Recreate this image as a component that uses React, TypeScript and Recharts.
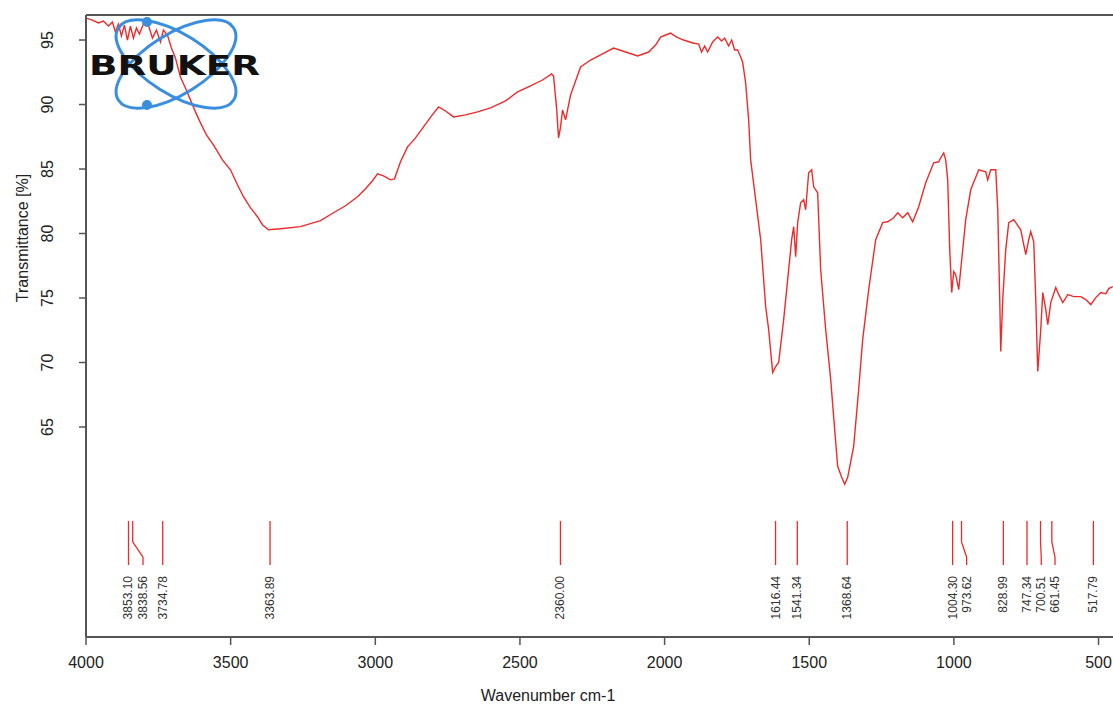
import React from 'react';
import { ComposedChart, Line, Scatter, XAxis, YAxis, ReferenceLine } from 'recharts';

// spectrum
const WAVENUMBERS = [
  4000, 3977.9, 3957.1, 3939.8, 3922.5, 3908.7, 3898.3, 3888.0, 3877.6, 3867.2,
  3856.8, 3846.5, 3836.1, 3825.7, 3815.4, 3801.5, 3787.7, 3770.4, 3756.6, 3742.7,
  3732.4, 3718.5, 3704.7, 3690.9, 3673.6, 3656.3, 3639.0, 3621.7, 3604.4, 3583.7,
  3559.5, 3528.4, 3500.7, 3476.5, 3455.8, 3431.6, 3407.4, 3390.1, 3369.3, 3327.8,
  3258.7, 3189.5, 3144.5, 3103.0, 3061.5, 3033.9, 3009.7, 2992.4, 2971.6, 2947.4,
  2933.6, 2912.9, 2888.6, 2861.0, 2833.3, 2805.6, 2781.4, 2757.2, 2729.5, 2688.0,
  2646.5, 2601.6, 2549.7, 2508.2, 2463.3, 2421.8, 2390.7, 2383.8, 2373.4, 2366.5,
  2359.6, 2352.7, 2342.3, 2325.0, 2290.4, 2255.9, 2221.3, 2176.3, 2134.8, 2093.3,
  2055.3, 2031.1, 2013.8, 1996.5, 1979.2, 1958.4, 1934.2, 1903.1, 1882.3, 1872.0,
  1861.6, 1851.2, 1833.9, 1816.6, 1802.8, 1792.4, 1778.6, 1768.2, 1757.8, 1747.5,
  1737.1, 1730.2, 1719.8, 1709.4, 1702.5, 1685.2, 1667.9, 1650.6, 1640.3, 1626.4,
  1616.1, 1605.7, 1588.4, 1574.6, 1560.8, 1553.8, 1546.9, 1540.0, 1529.7, 1519.3,
  1512.4, 1502.0, 1491.6, 1484.7, 1470.9, 1460.5, 1443.2, 1425.9, 1412.1, 1401.7,
  1387.9, 1377.5, 1367.1, 1346.4, 1329.1, 1315.3, 1294.5, 1270.3, 1246.1, 1228.8,
  1208.1, 1194.2, 1176.9, 1159.7, 1142.4, 1121.6, 1097.4, 1069.8, 1052.5, 1045.6,
  1035.2, 1028.3, 1021.4, 1014.4, 1007.5, 1000.6, 993.7, 983.3, 972.9, 959.1,
  941.8, 914.1, 889.9, 883.0, 872.6, 855.3, 848.4, 841.5, 838.0, 831.1,
  820.8, 810.4, 793.1, 768.9, 751.6, 741.2, 734.3, 723.9, 717.0, 710.1,
  699.7, 692.8, 682.4, 675.5, 665.1, 647.8, 637.5, 623.6, 606.3, 585.6,
  561.4, 544.1, 526.8, 509.5, 492.2, 474.9, 464.6, 450.7,
];

const TRANSMITTANCE = [
  96.70, 96.55, 96.32, 96.47, 96.08, 96.39, 95.62, 96.24, 95.31, 96.16,
  95.00, 96.08, 95.15, 95.93, 95.46, 96.24, 96.39, 95.15, 95.77, 94.85,
  95.77, 95.39, 94.38, 93.61, 92.14, 91.28, 90.36, 89.43, 88.58, 87.65,
  86.87, 85.71, 84.94, 83.78, 82.85, 82.00, 81.30, 80.68, 80.29, 80.37,
  80.53, 81.00, 81.61, 82.15, 82.85, 83.47, 84.09, 84.63, 84.47, 84.16,
  84.24, 85.56, 86.72, 87.41, 88.27, 89.12, 89.81, 89.50, 89.04, 89.20,
  89.43, 89.74, 90.28, 90.98, 91.44, 91.90, 92.37, 92.21, 89.74, 87.41,
  88.27, 89.58, 88.81, 90.74, 92.91, 93.45, 93.84, 94.38, 94.07, 93.76,
  94.07, 94.61, 95.23, 95.39, 95.54, 95.23, 95.00, 94.77, 94.69, 94.07,
  94.54, 94.07, 94.85, 95.23, 94.92, 95.15, 94.54, 95.00, 94.23, 94.23,
  93.68, 93.30, 91.67, 88.81, 85.71, 82.62, 79.52, 74.33, 72.56, 69.23,
  69.69, 70.00, 73.33, 76.42, 79.52, 80.53, 78.20, 80.84, 82.38, 82.62,
  81.84, 84.71, 84.94, 83.62, 83.16, 77.20, 72.56, 68.69, 64.82, 61.95,
  61.10, 60.56, 61.10, 63.50, 67.91, 71.78, 75.65, 79.52, 80.84, 80.91,
  81.22, 81.61, 81.22, 81.61, 80.91, 82.07, 83.93, 85.48, 85.56, 85.87,
  86.25, 85.71, 84.16, 78.75, 75.42, 77.05, 76.81, 75.65, 77.97, 81.07,
  83.39, 84.94, 84.79, 84.16, 84.94, 84.94, 81.84, 74.88, 70.85, 74.88,
  78.75, 80.84, 81.07, 80.29, 78.36, 79.52, 80.14, 79.36, 74.88, 69.30,
  72.56, 75.42, 74.10, 72.94, 74.64, 75.81, 75.26, 74.64, 75.26, 75.11,
  75.11, 74.88, 74.49, 75.03, 75.42, 75.34, 75.73, 75.88,
];

// picked peaks and where their labels sit (crowded ones are pushed aside)
const PEAKS = [3853.10, 3838.56, 3734.78, 3363.89, 2360.00, 1616.44, 1541.34, 1368.64, 1004.30, 973.62, 828.99, 747.34, 700.51, 661.45, 517.79];
const PEAK_LABEL_AT = [3853.10, 3803, 3734.78, 3363.89, 2360.00, 1616.44, 1541.34, 1368.64, 1004.30, 956, 828.99, 747.34, 698, 650.5, 517.79];

const X_TICKS = [4000, 3500, 3000, 2500, 2000, 1500, 1000, 500];
const Y_TICKS = [65, 70, 75, 80, 85, 90, 95];

const X_MIN = 450;
const X_MAX = 4000;
const Y_MIN = 48.72;
const Y_MAX = 96.94;

// peak marker levels (transmittance units)
const MARK_TOP = 57.72;
const BEND_START = 56.09;
const BEND_END = 54.92;
const MARK_BOTTOM = 54.3;
const LABEL_TOP = 53.45;

const spectrum = WAVENUMBERS.map((w, i) => ({ w, t: TRANSMITTANCE[i] }));
const peakLabels = PEAKS.map((p, i) => ({ w: PEAK_LABEL_AT[i], t: LABEL_TOP, label: p.toFixed(2) }));

const FONT = '"Liberation Sans", Arial, sans-serif';
const AXIS = '#555';
const RED = '#ee2b2b';

const YTick = (props: any) => {
  const { x, y, payload } = props;
  const tx = x - 24;
  return (
    <text x={tx} y={y} transform={`rotate(-90, ${tx}, ${y})`} textAnchor="middle" fill="#222" fontSize={16} fontFamily={FONT}>
      {payload.value}
    </text>
  );
};

const renderPeakLabel = (props: any) => {
  const { cx, cy, payload } = props;
  return (
    <text x={cx} y={cy} transform={`rotate(-90, ${cx}, ${cy})`} textAnchor="end" dominantBaseline="central" fontSize={12} fill="#333" fontFamily={FONT}>
      {payload.label}
    </text>
  );
};

const peakSegments = () => {
  const out: React.ReactNode[] = [];
  PEAKS.forEach((p, i) => {
    const l = PEAK_LABEL_AT[i];
    const props = { stroke: RED, strokeWidth: 1.3, ifOverflow: 'visible' as const };
    if (l === p) {
      out.push(<ReferenceLine key={`s${i}`} segment={[{ x: p, y: MARK_TOP }, { x: p, y: MARK_BOTTOM }]} {...props} />);
    } else {
      out.push(<ReferenceLine key={`a${i}`} segment={[{ x: p, y: MARK_TOP }, { x: p, y: BEND_START }]} {...props} />);
      out.push(<ReferenceLine key={`b${i}`} segment={[{ x: p, y: BEND_START }, { x: l, y: BEND_END }]} {...props} />);
      out.push(<ReferenceLine key={`c${i}`} segment={[{ x: l, y: BEND_END }, { x: l, y: MARK_BOTTOM }]} {...props} />);
    }
  });
  return out;
};

const BrukerLogo = () => (
  <svg width={1113} height={711} style={{ position: 'absolute', left: 0, top: 0, pointerEvents: 'none' }}>
    <g stroke="#3a8ee0" strokeWidth={3} fill="none">
      <ellipse cx={176} cy={64} rx={68} ry={30} transform="rotate(32 176 64)" />
      <ellipse cx={176} cy={64} rx={68} ry={30} transform="rotate(-32 176 64)" />
    </g>
    <circle cx={147} cy={22} r={5} fill="#3a8ee0" />
    <circle cx={147} cy={105} r={5} fill="#3a8ee0" />
    <text x={89} y={75} fontFamily='"DejaVu Sans", sans-serif' fontWeight="bold" fontSize={26} textLength={171} lengthAdjust="spacingAndGlyphs" fill="#111">
      BRUKER
    </text>
  </svg>
);

export default function App() {
  return (
    <div style={{ position: 'absolute', left: 0, top: 0, width: 1113, height: 711, overflow: 'hidden', background: '#fff', fontFamily: FONT }}>
      <ComposedChart width={1113} height={711} margin={{ top: 15, right: 0, bottom: 0, left: 0 }}>
        <XAxis
          dataKey="w"
          type="number"
          domain={[X_MIN, X_MAX]}
          reversed
          allowDataOverflow
          ticks={X_TICKS}
          interval={0}
          height={74}
          tickSize={8}
          tickMargin={12}
          axisLine={{ stroke: AXIS, strokeWidth: 2 }}
          tickLine={{ stroke: AXIS, strokeWidth: 1.5 }}
          tick={{ fill: '#222', fontSize: 16, fontFamily: FONT }}
          label={{
            content: () => (
              <text x={548} y={695} textAnchor="middle" dominantBaseline="central" fill="#222" fontSize={16} fontFamily={FONT}>
                Wavenumber cm-1
              </text>
            ),
          }}
        />
        <YAxis
          type="number"
          domain={[Y_MIN, Y_MAX]}
          allowDataOverflow
          ticks={Y_TICKS}
          interval={0}
          width={86}
          tickSize={7}
          axisLine={{ stroke: AXIS, strokeWidth: 2 }}
          tickLine={{ stroke: AXIS, strokeWidth: 1.5 }}
          tick={<YTick />}
          label={{
            content: () => (
              <text x={22} y={238} transform="rotate(-90, 22, 238)" textAnchor="middle" dominantBaseline="central" fill="#222" fontSize={16} fontFamily={FONT}>
                Transmittance [%]
              </text>
            ),
          }}
        />
        <ReferenceLine y={Y_MAX} stroke={AXIS} strokeWidth={2} ifOverflow="visible" />
        {peakSegments()}
        <Line data={spectrum} dataKey="t" type="linear" stroke={RED} strokeWidth={1.4} dot={false} isAnimationActive={false} />
        <Scatter data={peakLabels} dataKey="t" shape={renderPeakLabel} isAnimationActive={false} />
      </ComposedChart>
      <BrukerLogo />
    </div>
  );
}
